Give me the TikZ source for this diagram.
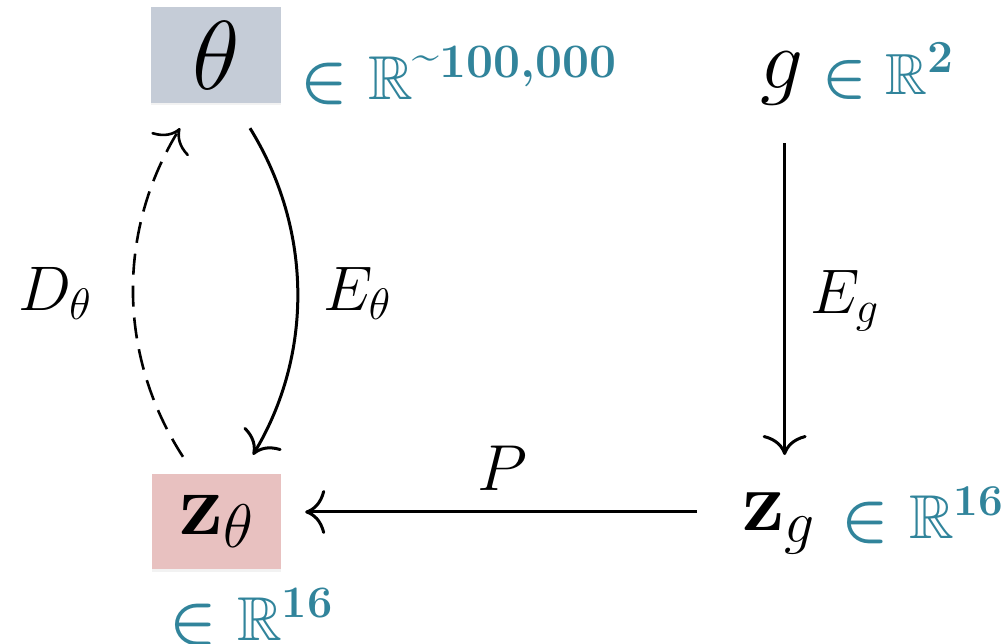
\RequirePackage{fix-cm}
\documentclass[tikz,border=0pt]{standalone}
\usepackage{amssymb}
\usetikzlibrary{arrows.meta,shadows}
\definecolor{tealtxt}{HTML}{31849B}
\definecolor{boxgray}{HTML}{C5CCD7}
\definecolor{boxpink}{HTML}{E8C1C0}
\newcommand{\tealR}{{\mathversion{bold}$\in\mathbb{R}$}}
\tikzset{
  arr/.style={line width=3pt, -{Computer Modern Rightarrow[length=20pt,width=44pt]}},
  darr/.style={line width=2.6pt, dash pattern=on 21pt off 11pt, -{Computer Modern Rightarrow[length=20pt,width=44pt]}},
  mbox/.style={inner sep=0pt, minimum width=130pt, minimum height=96pt,
    drop shadow={shadow xshift=0pt, shadow yshift=-2.5pt, opacity=0.10}},
  lbl/.style={inner sep=0pt, anchor=base west, font=\fontsize{63}{70}\selectfont},
  teal/.style={inner sep=0pt, anchor=base west, text=tealtxt},
}
\begin{document}
\begin{tikzpicture}[x=1pt,y=-1pt]
\path[use as bounding box] (0,0) rectangle (1008,644);
% boxes
\node[mbox, fill=boxgray, font=\fontsize{98}{100}\selectfont] (th) at (216,55) {$\theta$};
\node[mbox, minimum width=129pt, minimum height=95pt, fill=boxpink, font=\fontsize{88}{95}\selectfont] (zth) at (216.5,521.5) {$\mathbf{z}_{\theta}$};
% right column
\node[inner sep=0pt, anchor=base west, font=\fontsize{85}{90}\selectfont] (g) at (760,88.6) {$g$};
\node[inner sep=0pt, anchor=base west, font=\fontsize{85}{90}\selectfont] (zg) at (742,530) {$\mathbf{z}_{g}$};
% teal annotations
\node[teal, font=\fontsize{62}{70}\selectfont] (thR) at (300.5,100) {\tealR\raisebox{22pt}{\fontsize{48}{50}\selectfont\bfseries\raisebox{0.15em}{\textasciitilde}100,000}};
\node[teal, font=\fontsize{58}{64}\selectfont] (gR) at (822.5,95) {\tealR\raisebox{22pt}{\fontsize{46}{50}\selectfont\bfseries 2}};
\node[teal, font=\fontsize{62}{70}\selectfont] (zgR) at (841.5,538) {\tealR\raisebox{23pt}{\fontsize{44}{50}\selectfont\bfseries 16}};
\node[teal, font=\fontsize{62}{70}\selectfont] (zthR) at (169.5,640) {\tealR\raisebox{23pt}{\fontsize{45}{50}\selectfont\bfseries 16}};
% labels
\node[lbl] (Dl) at (18,310) {$D_{\theta}$};
\node[lbl] (El) at (323,310) {$E_{\theta}$};
\node[lbl] (Egl) at (810,313) {$E_{g}$};
\node[inner sep=0pt, anchor=base, font=\fontsize{65}{70}\selectfont] (Pl) at (502,490) {$P$};
% connectors
\draw[arr] ([xshift=34pt,yshift=-25pt]th.south) .. controls (313,230) and (313,355) .. ([xshift=36.5pt,yshift=19pt]zth.north);
\draw[darr] ([xshift=-33.5pt,yshift=17pt]zth.north) .. controls (117,355) and (117,230) .. ([xshift=-36pt,yshift=-25pt]th.south);
\coordinate (egs) at ([xshift=3pt,yshift=-38pt]g.south);
\draw[arr] (egs) -- ([yshift=37pt]zg.north -| egs);
\coordinate (ps) at ([xshift=-45pt,yshift=11.3pt]zg.west);
\draw[arr] (ps) -- ([xshift=24pt]zth.east |- ps);
\end{tikzpicture}
\end{document}
